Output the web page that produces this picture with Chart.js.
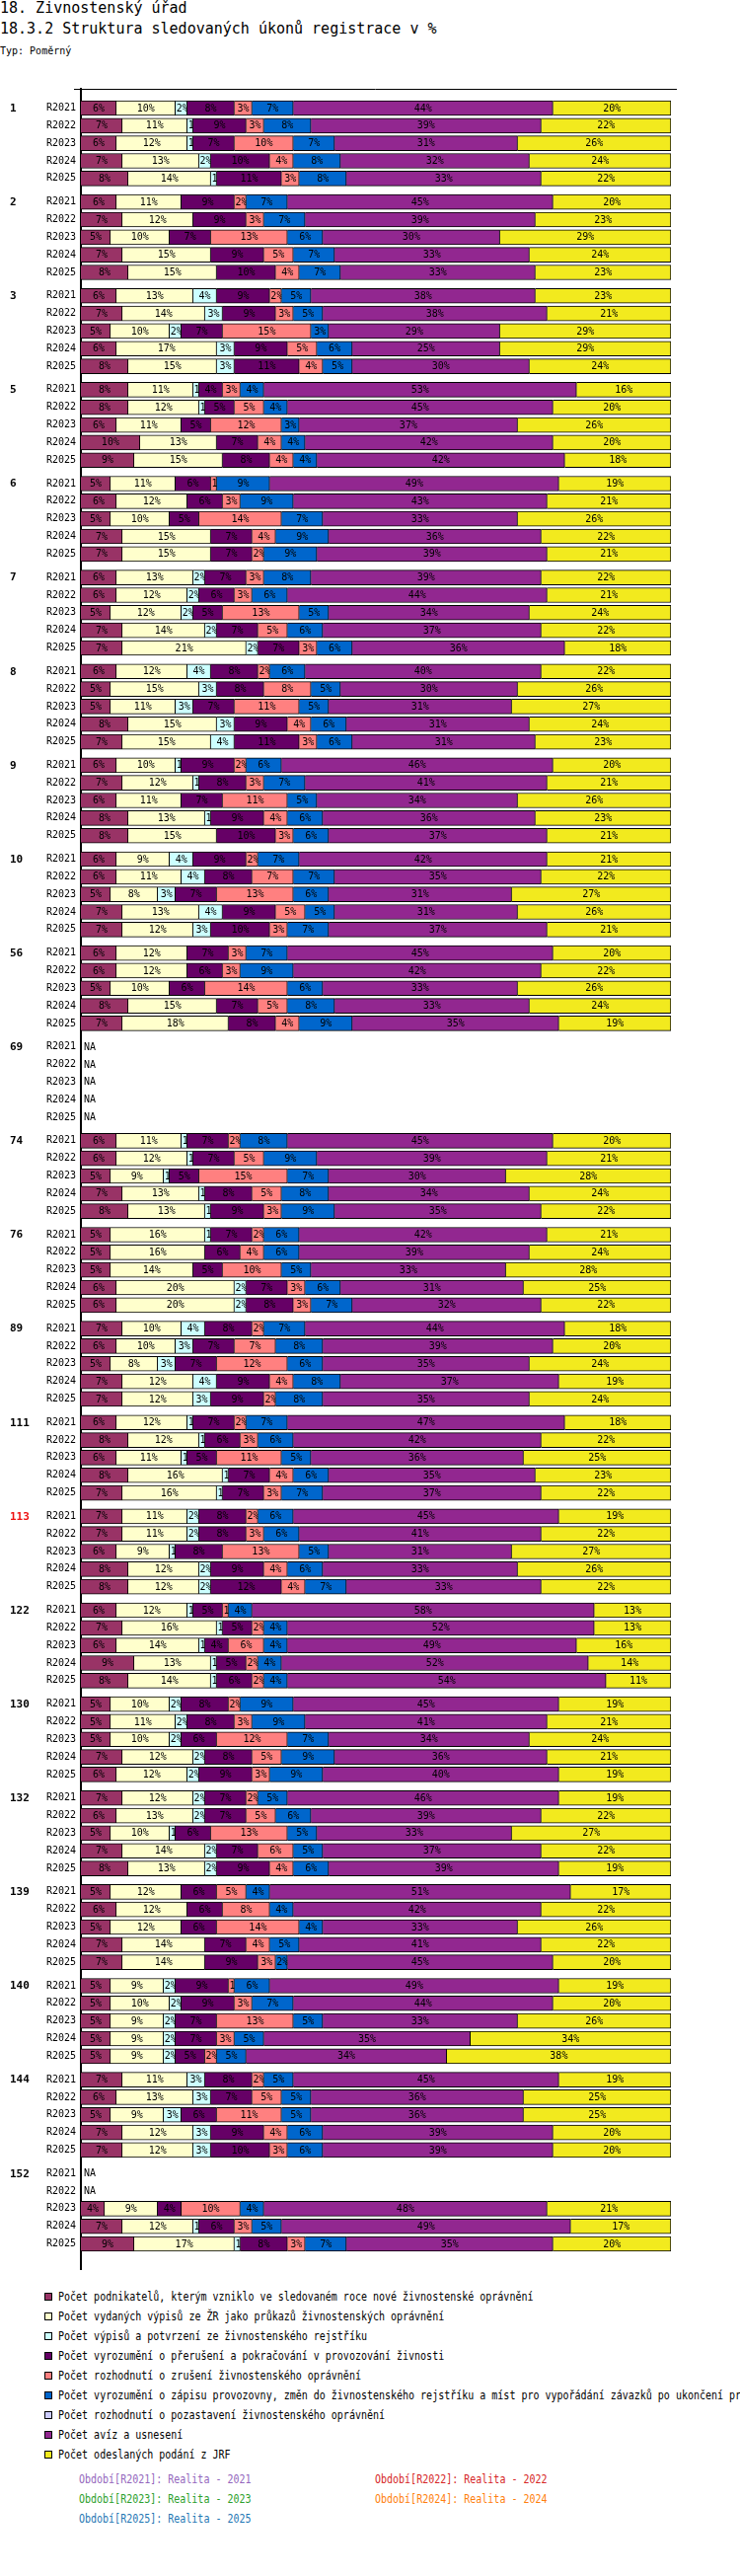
<!DOCTYPE html>
<html>
<head>
<meta charset="utf-8">
<script src="https://cdn.jsdelivr.net/npm/chart.js@4.4.1/dist/chart.umd.min.js"></script>
<style>
html,body{margin:0;padding:0;background:#fff;}
body{width:750px;height:2610px;position:relative;overflow:hidden;font-family:"DejaVu Sans Mono",monospace;color:#000;}
.t1{position:absolute;left:0;top:0;font-size:15px;line-height:17px;white-space:nowrap;}
.t2{position:absolute;left:0;top:21px;font-size:15px;line-height:17px;white-space:nowrap;}
.t3{position:absolute;left:0;top:46px;font-size:10px;line-height:12px;white-space:nowrap;}
#wrap{position:absolute;left:0;top:0;width:750px;height:2310px;}
.li{position:absolute;left:45px;height:20px;display:flex;align-items:center;white-space:nowrap;}
.sq{width:8px;height:8px;box-sizing:border-box;border:1px solid #000;flex:none;}
.lt{margin-left:6px;font-size:12px;line-height:20px;transform:scaleX(0.833);transform-origin:left center;}
.pl{position:absolute;font-size:12px;line-height:20px;white-space:nowrap;transform:scaleX(0.833);transform-origin:left center;}
</style>
</head>
<body>
<div class="t1">18. Živnostenský úřad</div>
<div class="t2">18.3.2 Struktura sledovaných úkonů registrace v %</div>
<div class="t3">Typ: Poměrný</div>
<div id="wrap"><canvas id="c"></canvas></div>
<div id="legend"></div>
<script>
// ---------- DATA ----------
const N = null;
const groups = ['1','2','3','5','6','7','8','9','10','56','69','74','76','89','111','113','122','130','132','139','140','144','152'];
const periods = ['R2021','R2022','R2023','R2024','R2025'];
const periodNames = ['Realita - 2021','Realita - 2022','Realita - 2023','Realita - 2024','Realita - 2025'];
const highlightGroup = '113';

const seriesNames = [
  'Počet podnikatelů, kterým vzniklo ve sledovaném roce nové živnostenské oprávnění',
  'Počet vydaných výpisů ze ŽR jako průkazů živnostenských oprávnění',
  'Počet výpisů a potvrzení ze živnostenského rejstříku',
  'Počet vyrozumění o přerušení a pokračování v provozování živnosti',
  'Počet rozhodnutí o zrušení živnostenského oprávnění',
  'Počet vyrozumění o zápisu provozovny, změn do živnostenského rejstříku a míst pro vypořádání závazků po ukončení provozování živnosti',
  'Počet rozhodnutí o pozastavení živnostenského oprávnění',
  'Počet avíz a usnesení',
  'Počet odeslaných podání z JRF'
];

// values in %, 5 periods per group, group order as in `groups`
const s1 = [6,7,6,7,8, 6,7,5,7,8, 6,7,5,6,8, 8,8,6,10,9, 5,6,5,7,7, 6,6,5,7,7, 6,5,5,8,7, 6,7,6,8,8, 6,6,5,7,7, 6,6,5,8,7,
  N,N,N,N,N, 6,6,5,7,8, 5,5,5,6,6, 7,6,5,7,7, 6,8,6,8,7, 7,7,6,8,8, 6,7,6,9,8, 5,5,5,7,6, 7,6,5,7,8, 5,6,5,7,7, 5,5,5,5,5, 7,6,5,7,7, N,N,4,7,9];
const s2 = [10,11,12,13,14, 11,12,10,15,15, 13,14,10,17,15, 11,12,11,13,15, 11,12,10,15,15, 13,12,12,14,21, 12,15,11,15,15, 10,12,11,13,15, 9,11,8,13,12, 12,12,10,15,18,
  N,N,N,N,N, 11,12,9,13,13, 16,16,14,20,20, 10,10,8,12,12, 12,12,11,16,16, 11,11,9,12,12, 12,16,14,13,14, 10,11,10,12,12, 12,13,10,14,13, 12,12,12,14,14, 9,10,9,9,9, 11,13,9,12,12, N,N,9,12,17];
const s3 = [2,1,1,2,1, 0,0,0,0,0, 4,3,2,3,3, 1,1,0,0,0, 0,0,0,0,0, 2,2,2,2,2, 4,3,3,3,4, 1,1,0,1,0, 4,4,3,4,3, 0,0,0,0,0,
  N,N,N,N,N, 1,1,1,1,1, 1,0,0,2,2, 4,3,3,4,3, 1,1,1,1,1, 2,2,1,2,2, 1,1,1,1,1, 2,2,2,2,2, 2,2,1,2,2, 0,0,0,0,0, 2,2,2,2,2, 3,3,3,3,3, N,N,0,1,1];
const s4 = [8,9,7,10,11, 9,9,7,9,10, 9,9,7,9,11, 4,5,5,7,8, 6,6,5,7,7, 7,6,5,7,7, 8,8,7,9,11, 9,8,7,9,10, 9,8,7,9,10, 7,6,6,7,8,
  N,N,N,N,N, 7,7,5,8,9, 7,6,5,7,8, 8,7,7,9,9, 7,6,5,7,7, 8,8,8,9,12, 5,5,4,5,6, 8,8,6,8,9, 7,7,6,7,9, 6,6,6,7,9, 9,9,7,7,5, 8,7,6,9,10, N,N,4,6,8];
const s5 = [3,3,10,4,3, 2,3,13,5,4, 2,3,15,5,4, 3,5,12,4,4, 1,3,14,4,2, 3,3,13,5,3, 2,8,11,4,3, 2,3,11,4,3, 2,7,13,5,3, 3,3,14,5,4,
  N,N,N,N,N, 2,5,15,5,3, 2,4,10,3,3, 2,7,12,4,2, 2,3,11,4,3, 2,3,13,4,4, 1,2,6,2,2, 2,3,12,5,3, 2,5,13,6,4, 5,8,14,4,3, 1,3,13,3,2, 2,5,11,4,3, N,N,10,3,3];
const s6 = [7,8,7,8,8, 7,7,6,7,7, 5,5,3,6,5, 4,4,3,4,4, 9,9,7,9,9, 8,6,5,6,6, 6,5,5,6,6, 6,7,5,6,6, 7,7,6,5,7, 7,9,6,8,9,
  N,N,N,N,N, 8,9,7,8,9, 6,6,5,6,7, 7,8,6,8,8, 7,6,5,6,7, 6,6,5,6,7, 4,4,4,4,4, 9,9,7,9,9, 5,6,5,5,6, 4,4,4,5,2, 6,7,5,5,5, 5,5,5,6,6, N,N,4,5,7];
const s7 = [0,0,0,0,0, 0,0,0,0,0, 0,0,0,0,0, 0,0,0,0,0, 0,0,0,0,0, 0,0,0,0,0, 0,0,0,0,0, 0,0,0,0,0, 0,0,0,0,0, 0,0,0,0,0,
  N,N,N,N,N, 0,0,0,0,0, 0,0,0,0,0, 0,0,0,0,0, 0,0,0,0,0, 0,0,0,0,0, 0,0,0,0,0, 0,0,0,0,0, 0,0,0,0,0, 0,0,0,0,0, 0,0,0,0,0, 0,0,0,0,0, N,N,0,0,0];
const s8 = [44,39,31,32,33, 45,39,30,33,33, 38,38,29,25,30, 53,45,37,42,42, 49,43,33,36,39, 39,44,34,37,36, 40,30,31,31,31, 46,41,34,36,37, 42,35,31,31,37, 45,42,33,33,35,
  N,N,N,N,N, 45,39,30,34,35, 42,39,33,31,32, 44,39,35,37,35, 47,42,36,35,37, 45,41,31,33,33, 58,52,49,52,54, 45,41,34,36,40, 46,39,33,37,39, 51,42,33,41,45, 49,44,33,35,34, 45,36,36,39,39, N,N,48,49,35];
const s9 = [20,22,26,24,22, 20,23,29,24,23, 23,21,29,29,24, 16,20,26,20,18, 19,21,26,22,21, 22,21,24,22,18, 22,26,27,24,23, 20,21,26,23,21, 21,22,27,26,21, 20,22,26,24,19,
  N,N,N,N,N, 20,21,28,24,22, 21,24,28,25,22, 18,20,24,19,24, 18,22,25,23,22, 19,22,27,26,22, 13,13,16,14,11, 19,21,24,21,19, 19,22,27,22,19, 17,22,26,22,20, 19,20,26,34,38, 19,25,25,20,20, N,N,21,17,20];

// ---------- STYLE ----------
const seriesColors = ['#993366','#FFFFCC','#CCFFFF','#660066','#FF8080','#0066CC','#CCCCFF','#922790','#F2EA1E'];
const periodColors = ['#9467bd','#d62728','#2ca02c','#ff7f0e','#1f77b4'];
const FONT = 'DejaVu Sans Mono';
const GROUP_SLOTS = 16, ROW_SLOTS = 3;       // layout units on the index scale
const Y_MIN = -10/6, Y_MAX = 366 + 2/3;

const series = [s1,s2,s3,s4,s5,s6,s7,s8,s9];
const positions = [];
groups.forEach((g, gi) => periods.forEach((p, ri) => positions.push(gi*GROUP_SLOTS + ri*ROW_SLOTS)));
const totals = positions.map((_, i) => series.reduce((a, s) => a + (s[i] || 0), 0));

const datasets = series.map((vals, k) => ({
  label: seriesNames[k],
  backgroundColor: seriesColors[k],
  borderColor: '#000',
  borderWidth: 1,
  barThickness: 15,
  data: vals.map((v, i) => (v ? {x: v / totals[i] * 100, y: positions[i], v: v} : null)).filter(Boolean)
}));

const segLabels = {
  id: 'segLabels',
  afterDatasetsDraw(chart) {
    const {ctx, chartArea} = chart;
    const ys = chart.scales.y;
    ctx.save();
    // top axis line extends slightly past the plot
    ctx.strokeStyle = '#000'; ctx.lineWidth = 1;
    ctx.beginPath();
    ctx.moveTo(chartArea.left - 7, chartArea.top + 0.5); ctx.lineTo(chartArea.right + 6, chartArea.top + 0.5);
    ctx.stroke();

    ctx.font = '10px "' + FONT + '"';
    ctx.fillStyle = '#000';
    ctx.textBaseline = 'middle';
    chart.data.datasets.forEach((ds, di) => {
      const meta = chart.getDatasetMeta(di);
      meta.data.forEach((el, i) => {
        const {x, y, base, height} = el.getProps(['x','y','base','height'], true);
        const left = Math.min(x, base), w = Math.abs(x - base);
        const text = ds.data[i].v + '%';
        const tw = ctx.measureText(text).width;
        ctx.save();
        ctx.beginPath();
        ctx.rect(left, y - height/2, w, height);
        ctx.clip();
        if (tw <= w - 2) { ctx.textAlign = 'center'; ctx.fillText(text, left + w/2, y + 0.5); }
        else { ctx.textAlign = 'left'; ctx.fillText(text, left + 1, y + 0.5); }
        ctx.restore();
      });
    });
    ctx.textAlign = 'left';
    positions.forEach((p, i) => {
      if (series.every(s => s[i] == null)) ctx.fillText('NA', chartArea.left + 3, ys.getPixelForValue(p) + 0.5);
    });
    // group labels (outer category level)
    ctx.font = 'bold 11px "' + FONT + '"';
    groups.forEach((g, gi) => {
      ctx.fillStyle = g === highlightGroup ? '#EE1111' : '#000';
      ctx.fillText(g, 10, ys.getPixelForValue(gi * GROUP_SLOTS) + 0.5);
    });
    ctx.restore();
  }
};

Chart.defaults.font.family = FONT;
new Chart(document.getElementById('c'), {
  type: 'bar',
  data: { datasets },
  plugins: [segLabels],
  options: {
    indexAxis: 'y',
    responsive: true,
    maintainAspectRatio: false,
    animation: false,
    layout: { padding: { top: 90, left: 44, right: 70, bottom: 10 } },
    plugins: { legend: { display: false }, tooltip: { enabled: false } },
    scales: {
      x: {
        type: 'linear', position: 'top', min: 0, max: 100, stacked: true,
        ticks: { display: false },
        grid: { display: false, drawTicks: false },
        border: { display: false }
      },
      y: {
        type: 'linear', position: 'left', reverse: true, min: Y_MIN, max: Y_MAX, stacked: true,
        bounds: 'data',
        grid: { display: false, drawTicks: false },
        border: { display: true, color: '#000', width: 2 },
        afterBuildTicks: s => { s.ticks = positions.map(v => ({ value: v })); },
        afterFit: s => { s.width = 38; },
        ticks: {
          autoSkip: false, padding: 5, color: '#000',
          font: { family: FONT, size: 10 },
          callback: (v, i) => periods[i % periods.length]
        }
      }
    }
  }
});

// ---------- LEGEND (HTML text) ----------
const legend = document.getElementById('legend');
seriesNames.forEach((name, k) => {
  const row = document.createElement('div');
  row.className = 'li';
  row.style.top = (2317 + k * 20) + 'px';
  const sq = document.createElement('span');
  sq.className = 'sq';
  sq.style.background = seriesColors[k];
  const t = document.createElement('span');
  t.className = 'lt';
  t.textContent = name;
  row.appendChild(sq); row.appendChild(t);
  legend.appendChild(row);
});
periods.forEach((p, k) => {
  const d = document.createElement('div');
  d.className = 'pl';
  d.style.left = (k % 2 === 0 ? 80 : 380) + 'px';
  d.style.top = (2502 + Math.floor(k / 2) * 20) + 'px';
  d.style.color = periodColors[k];
  d.textContent = 'Období[' + p + ']: ' + periodNames[k];
  legend.appendChild(d);
});
</script>
</body>
</html>
